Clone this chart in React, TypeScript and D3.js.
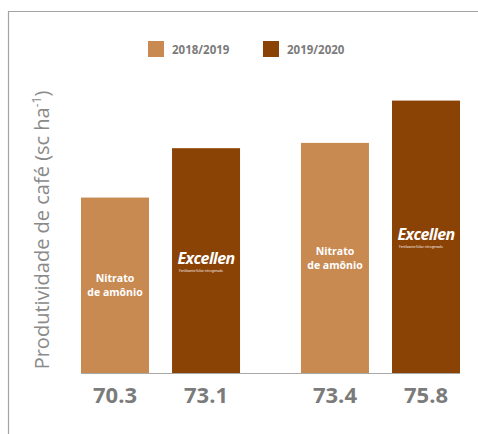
import * as d3 from "d3";

// Chart data
const groups = ["Grupo 1", "Grupo 2"];
const seasons = ["2018/2019", "2019/2020"];
const products = ["Nitrato de amônio", "Excellen"];
const values = [
  [70.3, 73.1],
  [73.4, 75.8],
];
const yLabel = "Produtividade de café (sc ha";

const W = 478;
const H = 434;
const COLORS = ["#c98a52", "#8a4205"];
const GRAY = "#7b7b7b";
const FONT = "'Open Sans', 'Noto Sans', sans-serif";

const PLOT = { left: 81, right: 460, top: 90, bottom: 373 };

function ExcellenLogo({ cx, cy }: { cx: number; cy: number }) {
  return (
    <g>
      <text
        x={cx}
        y={cy + 3}
        textAnchor="middle"
        fill="#fff"
        fontFamily={FONT}
        fontStyle="italic"
        fontWeight={700}
        fontSize={16}
        letterSpacing={-0.6}
      >
        Excellen
      </text>
      <text
        x={cx - 27}
        y={cy + 11}
        fill="#fff"
        fontFamily={FONT}
        fontSize={3.2}
      >
        Fertilizante foliar nitrogenado
      </text>
    </g>
  );
}

function NitratoLabel({ cx, cy }: { cx: number; cy: number }) {
  return (
    <text
      textAnchor="middle"
      fill="#fff"
      fontFamily={FONT}
      fontWeight={700}
      fontSize={10.5}
    >
      <tspan x={cx} y={cy - 3}>Nitrato</tspan>
      <tspan x={cx} y={cy + 11}>de amônio</tspan>
    </text>
  );
}

export default function App() {
  const x0 = d3
    .scaleBand<string>()
    .domain(groups)
    .range([PLOT.left, PLOT.right])
    .paddingInner(0.277)
    .paddingOuter(0);

  const x1 = d3
    .scaleBand<string>()
    .domain(seasons)
    .range([0, x0.bandwidth()])
    .paddingInner(0.253)
    .paddingOuter(0);

  const y = d3.scaleLinear().domain([60.35, 76.4]).range([PLOT.bottom, PLOT.top]);

  const yLabelX = 49;
  const yLabelY = 230;

  return (
    <svg
      width={W}
      height={H}
      style={{ position: "absolute", left: 0, top: 0, background: "#fff" }}
    >
      {/* frame */}
      <path d={`M8.5,${H} V11.5 H${W}`} fill="none" stroke="#a3a3a3" strokeWidth={1.2} />

      {/* legend */}
      {seasons.map((s, i) => {
        const lx = 148 + i * 115;
        return (
          <g key={s}>
            <rect x={lx} y={41} width={16} height={16} fill={COLORS[i]} />
            <text
              x={lx + 24}
              y={54}
              fill={GRAY}
              fontFamily={FONT}
              fontWeight={700}
              fontSize={11.5}
            >
              {s}
            </text>
          </g>
        );
      })}

      {/* y axis title */}
      <text
        transform={`translate(${yLabelX},${yLabelY}) rotate(-90)`}
        textAnchor="middle"
        fill="#8a8a8a"
        fontFamily={FONT}
        fontSize={20}
      >
        {yLabel}
        <tspan fontSize={12} dy={-8}>-1</tspan>
        <tspan dy={8}>)</tspan>
      </text>

      {/* bars */}
      {groups.map((g, gi) => (
        <g key={g} transform={`translate(${x0(g)},0)`}>
          {seasons.map((s, si) => {
            const v = values[gi][si];
            const bx = x1(s)!;
            const bw = x1.bandwidth();
            const top = y(v);
            const cx = bx + bw / 2;
            const cy = (top + PLOT.bottom) / 2;
            return (
              <g key={s}>
                <rect x={bx} y={top} width={bw} height={PLOT.bottom - top} fill={COLORS[si]} />
                {products[si] === "Excellen" ? (
                  <ExcellenLogo cx={cx} cy={cy} />
                ) : (
                  <NitratoLabel cx={cx} cy={cy} />
                )}
                <text
                  x={cx}
                  y={PLOT.bottom + 30}
                  textAnchor="middle"
                  fill={GRAY}
                  fontFamily={FONT}
                  fontWeight={700}
                  fontSize={22}
                >
                  {v.toFixed(1)}
                </text>
              </g>
            );
          })}
        </g>
      ))}

      {/* baseline */}
      <line
        x1={PLOT.left}
        x2={PLOT.right}
        y1={PLOT.bottom + 0.5}
        y2={PLOT.bottom + 0.5}
        stroke="#a8a8a8"
        strokeWidth={1.2}
      />
    </svg>
  );
}
